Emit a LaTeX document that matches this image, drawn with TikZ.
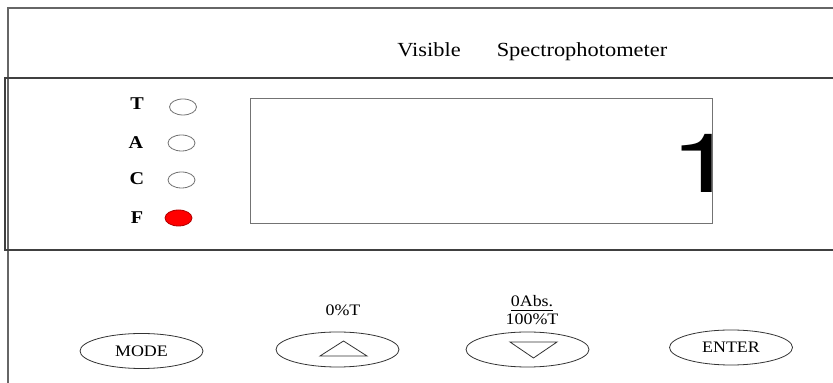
\documentclass[tikz,border=0pt]{standalone}
\usepackage{fontspec}
\setmainfont{Liberation Serif}
\newfontfamily\digitfont{TeX Gyre Heros}
\usepackage{graphicx}
\usetikzlibrary{positioning}
\usetikzlibrary{shapes.geometric}

\newcommand{\hwide}[1]{\scalebox{1.12}[1]{#1}}

\tikzset{
  frameline/.style={draw=black!60, line width=0.6pt},
  led/.style={ellipse, draw=black!55, line width=0.4pt, minimum width=13.5pt, minimum height=8pt, inner sep=0pt},
  ledletter/.style={font=\fontsize{9}{10}\selectfont\bfseries, inner sep=0pt, anchor=base},
  keybutton/.style={ellipse, draw=black!80, line width=0.4pt, minimum width=61.5pt, minimum height=17.5pt, inner sep=0pt, font=\fontsize{8}{9}\selectfont},
  keylabel/.style={font=\fontsize{8}{9}\selectfont, inner sep=0pt, align=center},
}

\begin{document}
\begin{tikzpicture}[x=0.5pt, y=-0.5pt]
\useasboundingbox (0,0) rectangle (833,383);

% outer case and display panel
\draw[frameline] (8,383) -- (8,8) -- (833,8);
\draw[frameline, draw=black!75] (833,78) -- (5,78) -- (5,250) -- (833,250);

% title
\node[anchor=base, inner sep=0pt, font=\fontsize{10}{12}\selectfont] (visible) at (429,57) {\hwide{Visible}};
\node[anchor=base, inner sep=0pt, font=\fontsize{10}{12}\selectfont] (spectro) at (582,57) {\hwide{Spectrophotometer}};

% mode lamps
\node[led] (ledT) at (183,107) {};
\node[led] (ledA) at (181.5,143) {};
\node[led] (ledC) at (181.5,180) {};
\node[led, fill=red, draw=red!70!black] (ledF) at (178.5,218) {};

\node[ledletter] (letT) at (137,110) {\hwide{T}};
\node[ledletter] (letA) at (136,149) {\hwide{A}};
\node[ledletter] (letC) at (137,185) {\hwide{C}};
\node[ledletter] (letF) at (137,224) {\hwide{F}};

% display window
\draw[draw=black!55, line width=0.5pt] (250,99) rectangle (712,224);
\node[inner sep=0pt, font=\digitfont\fontsize{41}{42}\selectfont, xscale=1.5] (reading) at (704,163) {1};

% keys
\node[keybutton] (mode) at (141.5,351) {\hwide{MODE}};
\node[keybutton] (up) at (337.5,349.5) {};
\node[keybutton] (down) at (527.5,349.5) {};
\node[keybutton] (enter) at (731,347.5) {\hwide{ENTER}};

\draw[black!80, line width=0.4pt] ([shift={(-17.5,6.5)}]up.center) -- ([shift={(29.5,6.5)}]up.center) -- ([shift={(6,-8.5)}]up.center) -- cycle;
\draw[black!80, line width=0.4pt] ([shift={(-17.5,-7.5)}]down.center) -- ([shift={(29.5,-7.5)}]down.center) -- ([shift={(6,8.5)}]down.center) -- cycle;

\node[keylabel, anchor=base] (zeroT) at (343,316) {\hwide{0\%T}};
\node[keylabel] (zeroabs) at (532,310.5) {\hwide{\underline{0Abs.}}\\[0pt]\hwide{100\%T}};

\end{tikzpicture}
\end{document}
